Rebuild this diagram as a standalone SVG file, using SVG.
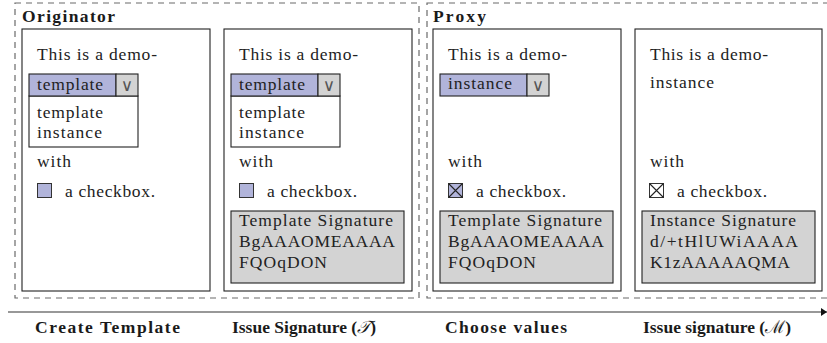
<svg xmlns="http://www.w3.org/2000/svg" width="827" height="343" viewBox="0 0 827 343" font-family="Liberation Serif">
<defs>
<style>
.bg{fill:#ffffff}
.dash{fill:none;stroke:#6a6a6a;stroke-width:1.2;stroke-dasharray:6 5}
.panel{fill:#ffffff;stroke:#222;stroke-width:1.1}
.t{font-size:17.5px;fill:#222}
.b{font-size:17.5px;font-weight:bold;fill:#1a1a1a}
.sel{fill:#b1b4da;stroke:#222;stroke-width:1.1}
.btn{fill:#d3d3d3;stroke:#222;stroke-width:1.1}
.list{fill:#ffffff;stroke:#222;stroke-width:1.1}
.chk{fill:#b1b4da;stroke:#333;stroke-width:1}
.chkw{fill:#ffffff;stroke:#333;stroke-width:1}
.x{stroke:#222;stroke-width:1.1}
.sig{fill:#d3d3d3;stroke:#222;stroke-width:1.1}
.v{font-size:17px;fill:#555}
.axis{stroke:#333;stroke-width:1.2;fill:none}
</style>
<marker id="arr" viewBox="0 0 6 8" refX="6" refY="4" markerWidth="6" markerHeight="8" markerUnits="userSpaceOnUse" orient="auto">
<path d="M0,0 L6,4 L0,8 Z" fill="#111"/>
</marker>
</defs>
<rect class="bg" x="0" y="0" width="827" height="343"/>

<g id="originator">
<rect class="dash" x="15" y="3" width="404" height="295"/>
<text class="b" x="22" y="22" textLength="93" lengthAdjust="spacing">Originator</text>
</g>
<g id="proxy">
<rect class="dash" x="427" y="3" width="410" height="295"/>
<text class="b" x="433" y="22" textLength="53" lengthAdjust="spacing">Proxy</text>
</g>

<g id="create-template">
<rect class="panel" x="22" y="29" width="188" height="262"/>
<text class="t" x="37" y="60" textLength="120" lengthAdjust="spacing">This is a demo-</text>
<rect class="list" x="29" y="96" width="109" height="51"/>
<rect class="sel" x="29" y="74" width="87" height="22"/>
<rect class="btn" x="116" y="74" width="22" height="22"/>
<text class="v" x="127" y="91" text-anchor="middle" font-family="DejaVu Sans">∨</text>
<text class="t" x="37" y="90" textLength="66" lengthAdjust="spacing">template</text>
<text class="t" x="37" y="118" textLength="66" lengthAdjust="spacing">template</text>
<text class="t" x="37" y="138" textLength="65" lengthAdjust="spacing">instance</text>
<text class="t" x="37" y="167" textLength="34" lengthAdjust="spacing">with</text>
<rect class="chk" x="37.5" y="183.5" width="14" height="14"/>
<text class="t" x="65" y="197" textLength="90" lengthAdjust="spacing">a checkbox.</text>
</g>

<g id="issue-template-signature">
<rect class="panel" x="224" y="29" width="188" height="262"/>
<text class="t" x="239" y="60" textLength="119" lengthAdjust="spacing">This is a demo-</text>
<rect class="list" x="231" y="96" width="109" height="51"/>
<rect class="sel" x="231" y="74" width="87" height="22"/>
<rect class="btn" x="318" y="74" width="22" height="22"/>
<text class="v" x="329" y="91" text-anchor="middle" font-family="DejaVu Sans">∨</text>
<text class="t" x="239" y="90" textLength="66" lengthAdjust="spacing">template</text>
<text class="t" x="239" y="118" textLength="66" lengthAdjust="spacing">template</text>
<text class="t" x="239" y="138" textLength="65" lengthAdjust="spacing">instance</text>
<text class="t" x="239" y="167" textLength="34" lengthAdjust="spacing">with</text>
<rect class="chk" x="239.5" y="183.5" width="14" height="14"/>
<text class="t" x="267" y="197" textLength="90" lengthAdjust="spacing">a checkbox.</text>
<rect class="sig" x="231" y="211" width="173" height="72"/>
<text class="t" x="239" y="226" textLength="154" lengthAdjust="spacing">Template Signature</text>
<text class="t" x="239" y="247" textLength="156" lengthAdjust="spacing">BgAAAOMEAAAA</text>
<text class="t" x="239" y="268" textLength="88" lengthAdjust="spacing">FQOqDON</text>
</g>

<g id="choose-values">
<rect class="panel" x="433" y="29" width="188" height="262"/>
<text class="t" x="448" y="60" textLength="119" lengthAdjust="spacing">This is a demo-</text>
<rect class="sel" x="440" y="74" width="87" height="22"/>
<rect class="btn" x="527" y="74" width="22" height="22"/>
<text class="v" x="538" y="91" text-anchor="middle" font-family="DejaVu Sans">∨</text>
<text class="t" x="448" y="89" textLength="64" lengthAdjust="spacing">instance</text>
<text class="t" x="448" y="167" textLength="34" lengthAdjust="spacing">with</text>
<rect class="chk" x="448.5" y="183.5" width="14" height="14"/>
<path class="x" d="M448.5,183.5 L462.5,197.5 M462.5,183.5 L448.5,197.5"/>
<text class="t" x="476" y="197" textLength="90" lengthAdjust="spacing">a checkbox.</text>
<rect class="sig" x="440" y="211" width="173" height="72"/>
<text class="t" x="448" y="226" textLength="154" lengthAdjust="spacing">Template Signature</text>
<text class="t" x="448" y="247" textLength="156" lengthAdjust="spacing">BgAAAOMEAAAA</text>
<text class="t" x="448" y="268" textLength="88" lengthAdjust="spacing">FQOqDON</text>
</g>

<g id="issue-instance-signature">
<rect class="panel" x="635" y="29" width="187" height="262"/>
<text class="t" x="650" y="60" textLength="118" lengthAdjust="spacing">This is a demo-</text>
<text class="t" x="650" y="88" textLength="64" lengthAdjust="spacing">instance</text>
<text class="t" x="650" y="167" textLength="34" lengthAdjust="spacing">with</text>
<rect class="chkw" x="649.5" y="183.5" width="14" height="14"/>
<path class="x" d="M649.5,183.5 L663.5,197.5 M663.5,183.5 L649.5,197.5"/>
<text class="t" x="677" y="197" textLength="90" lengthAdjust="spacing">a checkbox.</text>
<rect class="sig" x="642" y="211" width="173" height="72"/>
<text class="t" x="650" y="226" textLength="146" lengthAdjust="spacing">Instance Signature</text>
<text class="t" x="650" y="247" textLength="148" lengthAdjust="spacing">d/+tHlUWiAAAA</text>
<text class="t" x="650" y="268" textLength="140" lengthAdjust="spacing">K1zAAAAAQMA</text>
</g>

<g id="connectors">
<line class="axis" x1="8" y1="312" x2="827" y2="312" marker-end="url(#arr)"/>
</g>

<g id="timeline-labels">
<text class="b" x="35" y="333" textLength="145" lengthAdjust="spacing">Create Template</text>
<text class="b" x="232" y="333">Issue Signature (<tspan font-family="DejaVu Serif" font-weight="normal" font-style="italic">𝒯</tspan>)</text>
<text class="b" x="445" y="333" textLength="122" lengthAdjust="spacing">Choose values</text>
<text class="b" x="643" y="333">Issue signature (<tspan font-family="DejaVu Serif" font-weight="normal">ℳ</tspan>)</text>
</g>
</svg>
